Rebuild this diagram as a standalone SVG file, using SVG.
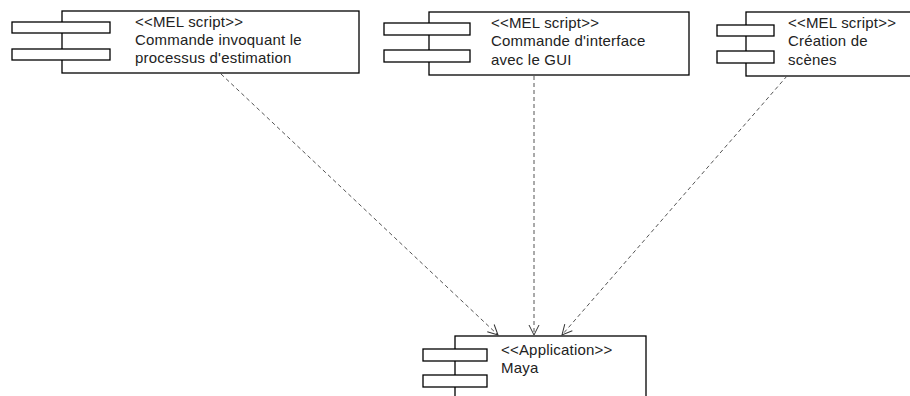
<svg xmlns="http://www.w3.org/2000/svg" width="910" height="396" viewBox="0 0 910 396">
<defs>
<style>
.box{fill:#fff;stroke:#000;stroke-width:1.3}
.tab{fill:#fff;stroke:#000;stroke-width:1.3}
.t{font-family:"Liberation Sans",Arial,sans-serif;font-size:15px;fill:#222;letter-spacing:0.2px}
.dep{fill:none;stroke:#555;stroke-width:1;stroke-dasharray:4,3}
</style>
<marker id="open" viewBox="0 0 12 12" refX="11" refY="6" markerWidth="12" markerHeight="12" markerUnits="userSpaceOnUse" orient="auto">
<path d="M1,1 L11,6 L1,11" fill="none" stroke="#333" stroke-width="1"/>
</marker>
</defs>
<rect width="910" height="396" fill="#fff"/>
<g id="n1">
<rect class="box" x="62" y="11" width="297" height="62"/>
<rect class="tab" x="12" y="22" width="98" height="11"/>
<rect class="tab" x="12" y="49" width="98" height="11"/>
<text class="t" x="135" y="27">&lt;&lt;MEL script&gt;&gt;</text>
<text class="t" x="135" y="45">Commande invoquant le</text>
<text class="t" x="135" y="63">processus d'estimation</text>
</g>
<g id="n2">
<rect class="box" x="429" y="12" width="260" height="63"/>
<rect class="tab" x="384" y="23" width="86" height="12"/>
<rect class="tab" x="384" y="50" width="86" height="12"/>
<text class="t" x="491" y="28">&lt;&lt;MEL script&gt;&gt;</text>
<text class="t" x="491" y="46">Commande d'interface</text>
<text class="t" x="491" y="65">avec le GUI</text>
</g>
<g id="n3">
<rect class="box" x="746" y="12" width="200" height="64"/>
<rect class="tab" x="717" y="25" width="57" height="11"/>
<rect class="tab" x="717" y="51" width="57" height="12"/>
<text class="t" x="788" y="28">&lt;&lt;MEL script&gt;&gt;</text>
<text class="t" x="788" y="46">Création de</text>
<text class="t" x="788" y="65">scènes</text>
</g>
<g id="n4">
<rect class="box" x="455" y="336" width="191" height="80"/>
<rect class="tab" x="423" y="349" width="64" height="12"/>
<rect class="tab" x="423" y="375" width="64" height="12"/>
<text class="t" x="501" y="355">&lt;&lt;Application&gt;&gt;</text>
<text class="t" x="501" y="373">Maya</text>
</g>
<g id="connectors">
<line class="dep" x1="221" y1="74" x2="498" y2="335" marker-end="url(#open)"/>
<line class="dep" x1="534" y1="76" x2="534" y2="335" marker-end="url(#open)"/>
<line class="dep" x1="787" y1="76" x2="562" y2="335" marker-end="url(#open)"/>
</g>
</svg>
